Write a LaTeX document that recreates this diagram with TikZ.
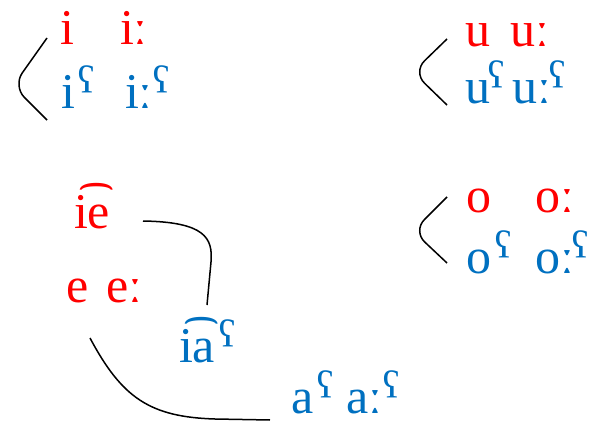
\documentclass[tikz,border=0pt]{standalone}
\usepackage{fontspec}
\setmainfont{Liberation Serif}
\definecolor{vred}{RGB}{255,0,0}
\definecolor{vblue}{RGB}{0,112,192}
\newcommand\phar[1][4pt]{\hspace{#1}\raisebox{-2pt}{\fontsize{64}{64}\selectfont ˤ}}
\tikzset{
  v/.style={inner sep=0pt, outer sep=0pt, anchor=base west, font=\fontsize{50}{60}\selectfont},
  vr/.style={v, text=vred},
  vb/.style={v, text=vblue},
  link/.style={draw=black, line width=1.5pt},
  brk/.style={link, rounded corners=16pt}
}
\begin{document}
\begin{tikzpicture}[x=1pt,y=-1pt]
\useasboundingbox (0,0) rectangle (589,428);
% top-left group
\node[vr] (i1) at (60,45) {i};
\node[vr] (i2) at (120,45) {iː};
\node[vb] (i3) at (61,108) {i\phar};
\node[vb] (i4) at (125,108) {iː\phar[1pt]};
% top-right group
\node[vr] (u1) at (465,47) {u};
\node[vr] (u2) at (510,47) {uː};
\node[vb] (u3) at (465,103) {u\phar[-2pt]};
\node[vb] (u4) at (512,103) {uː\phar[-1pt]};
% mid-right group
\node[vr] (o1) at (466,212) {o};
\node[vr] (o2) at (535,212) {oː};
\node[vb] (o3) at (466,273) {o\phar};
\node[vb] (o4) at (535,273) {oː\phar[-1pt]};
% lower-left
\node[vr] (ie) at (74,228) {i͡e};
\node[vr] (e1) at (66,302) {e};
\node[vr] (e2) at (106,302) {eː};
\node[vb] (ia) at (179,362) {i͡a\phar};
\node[vb] (a1) at (291,413) {a\phar};
\node[vb] (a2) at (346,413) {aː\phar[1pt]};
% brackets
\draw[brk] (47,38) -- (13,86) -- (47,120);
\draw[brk] (447,39) -- (413,72) -- (447,105);
\draw[brk] (447,197) -- (413,231) -- (447,263);
% connectors
\coordinate (c1s) at (143,221);
\coordinate (c1e) at (207,305);
\coordinate (c2s) at (90,338);
\coordinate (c2e) at (270,420);
\draw[link] (c1s) .. controls (205,222) and (213,238) .. (211,262) -- (c1e);
\draw[link] (c2s) .. controls (122,398) and (150,417) .. (215,419) -- (c2e);
\end{tikzpicture}
\end{document}
